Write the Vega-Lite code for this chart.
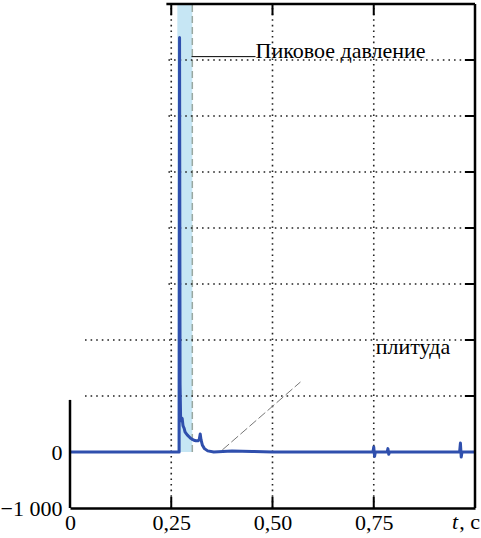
{
  "$schema": "https://vega.github.io/schema/vega-lite/v6.json",
  "width": 405,
  "height": 504,
  "autosize": "none",
  "padding": {"left": 70, "top": 4, "right": 6, "bottom": 30},
  "background": "white",
  "config": {
    "view": {"stroke": null},
    "font": "Liberation Serif, Times New Roman, DejaVu Serif, serif",
    "axis": {"labelFont": "Liberation Serif, Times New Roman, DejaVu Serif, serif"},
    "text": {"font": "Liberation Serif, Times New Roman, DejaVu Serif, serif"}
  },
  "datasets": {
    "signal": [
      {"t": 0, "p": 0}, {"t": 0.1, "p": 0}, {"t": 0.2, "p": 0}, {"t": 0.2695, "p": 0},
      {"t": 0.2705, "p": 7400}, {"t": 0.2718, "p": 1200}, {"t": 0.273, "p": 650},
      {"t": 0.275, "p": 560}, {"t": 0.277, "p": 600}, {"t": 0.279, "p": 470},
      {"t": 0.282, "p": 420}, {"t": 0.284, "p": 360}, {"t": 0.287, "p": 330},
      {"t": 0.29, "p": 300}, {"t": 0.293, "p": 280}, {"t": 0.297, "p": 250},
      {"t": 0.301, "p": 230}, {"t": 0.306, "p": 210}, {"t": 0.311, "p": 200},
      {"t": 0.316, "p": 200}, {"t": 0.319, "p": 220}, {"t": 0.3215, "p": 320},
      {"t": 0.3235, "p": 220}, {"t": 0.327, "p": 120}, {"t": 0.332, "p": 60},
      {"t": 0.34, "p": 20}, {"t": 0.355, "p": 0}, {"t": 0.4, "p": 20}, {"t": 0.45, "p": 10},
      {"t": 0.5, "p": 0}, {"t": 0.6, "p": 0}, {"t": 0.7, "p": 0}, {"t": 0.748, "p": 0},
      {"t": 0.75, "p": 90}, {"t": 0.752, "p": -80}, {"t": 0.754, "p": 0},
      {"t": 0.783, "p": 0}, {"t": 0.785, "p": 60}, {"t": 0.787, "p": -40},
      {"t": 0.789, "p": 0}, {"t": 0.9, "p": 0}, {"t": 0.962, "p": 0},
      {"t": 0.964, "p": 160}, {"t": 0.966, "p": -90}, {"t": 0.968, "p": 0}, {"t": 1, "p": 0}
    ],
    "band": [{"t0": 0.265, "t1": 0.302, "p0": 0, "p1": 8000}],
    "gridH": [
      {"p": 1000, "from": 0.037, "to": 1}, {"p": 2000, "from": 0.037, "to": 1},
      {"p": 3000, "from": 0.243, "to": 1}, {"p": 4000, "from": 0.243, "to": 1},
      {"p": 5000, "from": 0.243, "to": 1}, {"p": 6000, "from": 0.243, "to": 1},
      {"p": 7000, "from": 0.243, "to": 1}
    ],
    "gridV": [
      {"t": 0.25, "lo": -1000, "hi": 8000},
      {"t": 0.5, "lo": -1000, "hi": 8000},
      {"t": 0.75, "lo": -1000, "hi": 8000}
    ],
    "ticksV": [
      {"t": 0.25, "a": -1000, "b": -800}, {"t": 0.5, "a": -1000, "b": -800}, {"t": 0.75, "a": -1000, "b": -800},
      {"t": 0.25, "a": 7800, "b": 8000}, {"t": 0.5, "a": 7800, "b": 8000}, {"t": 0.75, "a": 7800, "b": 8000}
    ],
    "ticksH": [
      {"p": 1000, "a": 0.975, "b": 1}, {"p": 2000, "a": 0.975, "b": 1}, {"p": 3000, "a": 0.975, "b": 1},
      {"p": 4000, "a": 0.975, "b": 1}, {"p": 5000, "a": 0.975, "b": 1}, {"p": 6000, "a": 0.975, "b": 1},
      {"p": 7000, "a": 0.975, "b": 1}
    ],
    "frameH": [
      {"from": 0.238, "to": 1, "p": 8000}
    ],
    "frameV": [
      {"t": 1, "lo": -1000, "hi": 8000},
      {"t": 0, "lo": -1000, "hi": 930}
    ],
    "leader": [{"t": 0.376, "p": 36}, {"t": 0.569, "p": 1250}],
    "peakLeader": [{"from": 0.3, "to": 0.458, "p": 7060}],
    "notes": [
      {"t": 0.458, "p": 7060, "label": "Пиковое давление"},
      {"t": 0.755, "p": 1768, "label": "плитуда"}
    ],
    "unit": [{"t": 1, "p": -1000, "label": ", с"}],
    "unitVar": [{"t": 1, "p": -1000, "label": "t"}]
  },
  "layer": [
    {
      "data": {"name": "band"},
      "mark": {"type": "rect", "color": "#c6e6f4"},
      "encoding": {
        "x": {"field": "t0", "type": "quantitative", "scale": {"domain": [0, 1], "nice": false, "zero": false}},
        "x2": {"field": "t1"},
        "y": {"field": "p0", "type": "quantitative", "scale": {"domain": [-1000, 8000], "nice": false}},
        "y2": {"field": "p1"}
      }
    },
    {
      "data": {"name": "band"},
      "mark": {"type": "rule", "color": "#9aa8a0", "strokeWidth": 1.5, "strokeDash": [7, 4]},
      "encoding": {
        "x": {"field": "t1", "type": "quantitative"},
        "y": {"field": "p0", "type": "quantitative"},
        "y2": {"field": "p1"}
      }
    },
    {
      "data": {"name": "gridH"},
      "mark": {"type": "rule", "color": "#222", "strokeWidth": 1.6, "strokeDash": [1.6, 4]},
      "encoding": {
        "x": {"field": "from", "type": "quantitative"},
        "x2": {"field": "to"},
        "y": {"field": "p", "type": "quantitative"}
      }
    },
    {
      "data": {"name": "gridV"},
      "mark": {"type": "rule", "color": "#222", "strokeWidth": 1.6, "strokeDash": [1.6, 4]},
      "encoding": {
        "x": {"field": "t", "type": "quantitative"},
        "y": {"field": "lo", "type": "quantitative"},
        "y2": {"field": "hi"}
      }
    },
    {
      "data": {"name": "ticksV"},
      "mark": {"type": "rule", "color": "black", "strokeWidth": 2},
      "encoding": {
        "x": {"field": "t", "type": "quantitative"},
        "y": {"field": "a", "type": "quantitative"},
        "y2": {"field": "b"}
      }
    },
    {
      "data": {"name": "ticksH"},
      "mark": {"type": "rule", "color": "black", "strokeWidth": 2},
      "encoding": {
        "x": {"field": "a", "type": "quantitative"},
        "x2": {"field": "b"},
        "y": {"field": "p", "type": "quantitative"}
      }
    },
    {
      "data": {"name": "leader"},
      "mark": {"type": "line", "color": "#777", "strokeWidth": 1, "strokeDash": [9, 3]},
      "encoding": {
        "x": {"field": "t", "type": "quantitative"},
        "y": {"field": "p", "type": "quantitative"}
      }
    },
    {
      "data": {"name": "peakLeader"},
      "mark": {"type": "rule", "color": "black", "strokeWidth": 1},
      "encoding": {
        "x": {"field": "from", "type": "quantitative"},
        "x2": {"field": "to"},
        "y": {"field": "p", "type": "quantitative"}
      }
    },
    {
      "data": {"name": "signal"},
      "mark": {"type": "line", "color": "#2f4fad", "strokeWidth": 3, "strokeJoin": "round"},
      "encoding": {
        "x": {
          "field": "t", "type": "quantitative",
          "axis": {
            "values": [0, 0.25, 0.5, 0.75],
            "labelExpr": "datum.value == 0 ? '0' : replace(format(datum.value, '.2f'), '.', ',')",
            "ticks": false, "tickSize": 0, "grid": false,
            "domain": true, "domainWidth": 2.5, "domainColor": "black",
            "labelFont": "Liberation Serif, Times New Roman, DejaVu Serif, serif",
            "labelFontSize": 22, "labelColor": "black", "labelPadding": 4,
            "labelFlush": false, "labelOverlap": false, "labelBound": false,
            "title": null
          }
        },
        "y": {
          "field": "p", "type": "quantitative",
          "axis": {
            "values": [-1000, 0],
            "labelExpr": "datum.value == 0 ? '0' : '−1 000'",
            "ticks": false, "tickSize": 0, "grid": false, "domain": false,
            "labelFont": "Liberation Serif, Times New Roman, DejaVu Serif, serif",
            "labelFontSize": 22, "labelColor": "black", "labelPadding": 8,
            "labelFlush": false, "labelOverlap": false,
            "title": null
          }
        }
      }
    },
    {
      "data": {"name": "frameH"},
      "mark": {"type": "rule", "color": "black", "strokeWidth": 2.5},
      "encoding": {
        "x": {"field": "from", "type": "quantitative"},
        "x2": {"field": "to"},
        "y": {"field": "p", "type": "quantitative"}
      }
    },
    {
      "data": {"name": "frameV"},
      "mark": {"type": "rule", "color": "black", "strokeWidth": 2.5},
      "encoding": {
        "x": {"field": "t", "type": "quantitative"},
        "y": {"field": "lo", "type": "quantitative"},
        "y2": {"field": "hi"}
      }
    },
    {
      "data": {"name": "notes"},
      "mark": {"type": "text", "align": "left", "baseline": "alphabetic", "fontSize": 22, "font": "Liberation Serif, Times New Roman, DejaVu Serif, serif", "color": "black", "dy": 1},
      "encoding": {
        "x": {"field": "t", "type": "quantitative"},
        "y": {"field": "p", "type": "quantitative"},
        "text": {"field": "label"}
      }
    },
    {
      "data": {"name": "unit"},
      "mark": {"type": "text", "align": "right", "baseline": "top", "fontSize": 22, "font": "Liberation Serif, Times New Roman, DejaVu Serif, serif", "color": "black", "dy": 4, "dx": 5},
      "encoding": {
        "x": {"field": "t", "type": "quantitative"},
        "y": {"field": "p", "type": "quantitative"},
        "text": {"field": "label"}
      }
    },
    {
      "data": {"name": "unitVar"},
      "mark": {"type": "text", "align": "right", "baseline": "top", "fontSize": 22, "fontStyle": "italic", "font": "Liberation Serif, Times New Roman, DejaVu Serif, serif", "color": "black", "dy": 4, "dx": -17},
      "encoding": {
        "x": {"field": "t", "type": "quantitative"},
        "y": {"field": "p", "type": "quantitative"},
        "text": {"field": "label"}
      }
    }
  ]
}
